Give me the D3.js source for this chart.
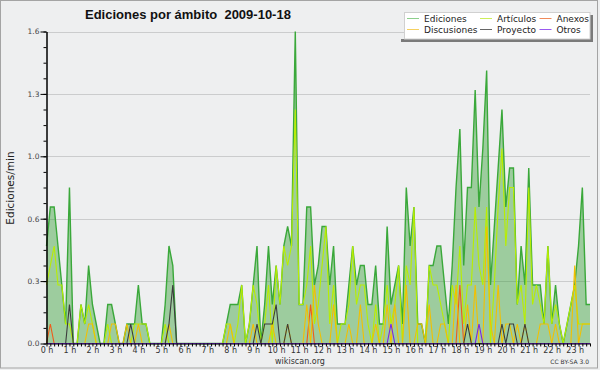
<!DOCTYPE html>
<html>
<head>
<meta charset="utf-8">
<script src="https://cdn.jsdelivr.net/npm/d3@7"></script>
<style>
  body { margin: 0; background: #eeeff0; }
  svg { display: block; }
</style>
</head>
<body>
<svg id="chart" width="600" height="370"></svg>
<script>
// edits per minute, 10-minute steps from 00:00 (6 values per hour)
let ediciones = [
  0.5,0.7,0.7,0.5,0.3,0.1, 0.8,0,0,0.2,0.1,0.4, 0.2,0.1,0,0,0.2,0.2, 0.1,0,0,0.1,0.1,0.1,
  0.3,0.1,0.1,0,0,0, 0,0.2,0.5,0.4,0,0, 0,0,0,0,0,0, 0,0,0,0,0,0.1,
  0.2,0.2,0.2,0.3,0,0.1, 0.3,0.5,0,0.2,0.5,0.2, 0.4,0.2,0.5,0.6,0.5,1.6, 0.2,0.2,0.7,0.7,0.3,0.4,
  0.6,0.6,0.3,0.5,0.1,0.1, 0.1,0.3,0.5,0.3,0.4,0.4, 0.2,0.2,0.4,0.1,0.1,0.6, 0.2,0.3,0.4,0.1,0.8,0.5,
  0.7,0.1,0.1,0,0.4,0.4, 0.5,0.5,0.3,0.1,0.4,0.8, 1.1,0.4,0.8,0.8,1.3,0.7, 1.0,1.4,0.3,0.6,0.9,1.2,
  0.7,0.9,0.9,0.2,0.5,0.3, 0.9,0.3,0.3,0.3,0.1,0.5, 0.1,0.3,0.1,0,0.1,0.2, 0.3,0.5,0.8,0.2,0.2
]
let articulos = [
  0.3,0.4,0.5,0.3,0.3,0.1, 0.1,0,0,0.2,0.1,0.2, 0.1,0,0,0,0.1,0, 0,0,0,0,0,0.1,
  0.1,0.1,0.1,0,0,0, 0,0.1,0,0,0,0, 0,0,0,0,0,0, 0,0,0,0,0,0.1,
  0.1,0,0.1,0.3,0,0.1, 0.3,0.2,0,0.1,0.3,0, 0.4,0.2,0.5,0.4,0.5,1.2, 0.2,0.2,0.3,0.5,0.1,0.2,
  0.4,0.6,0.1,0.3,0,0.1, 0.1,0.2,0.5,0.2,0.3,0.3, 0.1,0,0.2,0,0.1,0.3, 0.1,0.2,0.4,0,0.4,0.3,
  0.7,0,0,0,0.4,0.3, 0.3,0.2,0.1,0,0.3,0.2, 0.5,0.1,0.3,0.3,0.7,0.4, 0.3,0.7,0,0.3,0.7,1.0,
  0.5,0.8,0.8,0.2,0.3,0.1, 0.8,0.2,0.3,0.2,0.1,0.5, 0.1,0.2,0.1,0,0.1,0.2, 0.3,0.1,0.1,0.1,0.1
]
let anexos = [
  0,0.1,0,0,0,0, 0,0,0,0,0,0, 0,0,0,0,0,0, 0,0,0,0,0,0,
  0,0,0,0,0,0, 0,0,0,0,0,0, 0,0,0,0,0,0, 0,0,0,0,0,0,
  0,0,0,0,0,0, 0,0,0,0,0,0, 0,0,0,0,0,0, 0,0,0,0.2,0,0,
  0,0,0,0,0,0, 0,0,0,0,0,0, 0,0,0,0,0,0, 0,0,0,0,0,0,
  0,0,0,0,0,0, 0,0,0,0,0,0, 0.3,0,0,0,0,0, 0,0,0,0,0,0,
  0,0,0,0,0,0, 0,0,0,0,0,0, 0,0,0,0,0,0, 0,0,0,0,0
]
let discusiones = [
  0,0,0,0,0,0, 0,0,0,0,0,0.1, 0.1,0,0,0,0,0.1, 0.1,0,0,0.1,0,0,
  0.1,0,0,0,0,0, 0,0,0.1,0,0,0, 0,0,0,0,0,0, 0,0,0,0,0,0,
  0.1,0,0,0,0,0, 0.1,0,0,0,0,0.1, 0,0,0,0.1,0,0, 0,0,0.2,0,0.3,0.1,
  0,0,0,0.2,0,0, 0,0.1,0,0,0.2,0, 0,0,0.1,0,0,0.2, 0,0.2,0,0,0.3,0,
  0,0.1,0.1,0,0.2,0, 0,0.1,0.1,0,0,0.3, 0,0,0.2,0,0.3,0, 0,0.6,0.1,0,0.3,0,
  0.1,0.1,0,0.1,0,0.1, 0,0,0,0.1,0.1,0.1, 0,0.1,0,0,0,0, 0.4,0,0.1,0.1,0.1
]
let proyecto = [
  0,0,0,0,0,0, 0.2,0,0,0,0,0, 0,0,0,0,0,0, 0,0,0,0,0.1,0,
  0,0,0,0,0,0, 0,0,0.1,0.3,0,0, 0,0,0,0,0,0, 0,0,0,0,0,0,
  0,0,0,0,0,0, 0,0.1,0,0.1,0.1,0.1, 0.2,0,0,0.1,0,0, 0,0,0,0,0,0,
  0,0,0,0,0,0, 0,0,0,0,0,0, 0,0,0,0,0,0, 0,0,0,0,0,0,
  0,0,0,0,0,0, 0,0,0,0,0,0, 0,0,0.1,0,0,0, 0,0,0,0,0,0.1,
  0,0.1,0.1,0,0,0.1, 0,0,0,0,0,0, 0,0,0,0,0,0, 0,0,0,0,0
]
let otros = [
  0,0,0,0,0,0, 0,0,0,0,0,0, 0,0,0,0,0,0, 0,0,0,0,0,0,
  0,0,0,0,0,0, 0,0,0,0,0,0, 0,0,0,0,0,0, 0,0,0,0,0,0,
  0,0,0,0,0,0, 0,0,0,0,0,0, 0,0,0,0,0,0, 0,0,0,0,0,0,
  0,0,0,0,0,0, 0,0,0,0,0,0, 0,0,0,0,0,0, 0.1,0,0,0,0,0,
  0,0,0,0,0,0, 0,0,0,0,0,0, 0,0,0,0,0,0.1, 0,0,0,0,0,0,
  0,0,0,0,0,0, 0,0,0,0,0,0, 0,0,0,0,0,0, 0,0,0,0,0
]

let hourLabels = ["0 h","1 h","2 h","3 h","4 h","5 h","6 h","7 h","8 h","9 h","10 h","11 h",
  "12 h","13 h","14 h","15 h","16 h","17 h","18 h","19 h","20 h","21 h","22 h","23 h"]
let yTicks = [0, 0.32, 0.64, 0.96, 1.28, 1.6]
let yTickLabels = ["0.0", "0.3", "0.6", "1.0", "1.3", "1.6"]

let seriesNames = ["Ediciones", "Artículos", "Anexos", "Discusiones", "Proyecto", "Otros"]
let seriesData = [ediciones, articulos, anexos, discusiones, proyecto, otros]
let lineColors = ["#3aa83a", "#b8ee00", "#f05a1a", "#f2c000", "#3c3c3c", "#7a22e8"]
let legendColors = ["#8ccf8c", "#cdee5a", "#f08a5a", "#f5d060", "#666666", "#9a5af0"]

let svg = d3.select("#chart")
let font = "DejaVu Sans, sans-serif"

let x = d3.scaleLinear().domain([0, 142]).range([46.5, 590])
let y = d3.scaleLinear().domain([0, 1.6]).range([343.5, 31.5])

// frame
svg.append("rect")
  .attr("x", 0.5).attr("y", 0.5).attr("width", 597).attr("height", 367.5)
  .attr("fill", "#eeeff0").attr("stroke", "#a4a4a4")

// grid
svg.append("g").selectAll("line")
  .data(yTicks.slice(1))
  .enter().append("line")
  .attr("x1", 46.5).attr("x2", 590)
  .attr("y1", d => Math.round(y(d)) + 0.5).attr("y2", d => Math.round(y(d)) + 0.5)
  .attr("stroke", "#cbcccd")

// total area
let area = d3.area()
  .x((d, i) => x(i))
  .y0(y(0))
  .y1(d => y(d))
svg.append("path")
  .datum(ediciones)
  .attr("d", area)
  .attr("fill", "#2e9a2e")
  .attr("fill-opacity", 0.42)

let line = d3.line()
  .x((d, i) => x(i))
  .y(d => y(d))

svg.append("g").selectAll("path")
  .data(seriesData)
  .enter().append("path")
  .attr("d", d => line(d))
  .attr("fill", "none")
  .attr("stroke", (d, i) => lineColors[i])
  .attr("stroke-width", (d, i) => i === 0 ? 1.4 : 1.1)
  .attr("stroke-linejoin", "miter")

// axes
let xAxis = d3.axisBottom(x)
  .tickValues(d3.range(0, 143))
  .tickSize(3)
  .tickSizeOuter(0)
  .tickPadding(1)
  .tickFormat(i => i % 6 === 0 ? hourLabels[i / 6] : "")
let gx = svg.append("g")
  .attr("transform", "translate(0," + y(0) + ")")
  .call(xAxis)
gx.selectAll("text").attr("font-size", 8).attr("font-family", font).attr("fill", "#333")
gx.selectAll("line").attr("stroke", "#000")
gx.select(".domain").attr("stroke", "#000")

let yMinor = d3.axisLeft(y)
  .tickValues(d3.range(0, 21).map(k => k * 0.08))
  .tickSize(3)
  .tickSizeOuter(0)
  .tickFormat("")
let gyMinor = svg.append("g")
  .attr("transform", "translate(46.5,0)")
  .call(yMinor)
gyMinor.selectAll("line").attr("stroke", "#000")
gyMinor.select(".domain").attr("stroke", "#000")

let yAxis = d3.axisLeft(y)
  .tickValues(yTicks)
  .tickSize(6)
  .tickSizeOuter(0)
  .tickPadding(1)
  .tickFormat((d, i) => yTickLabels[i])
let gy = svg.append("g")
  .attr("transform", "translate(46.5,0)")
  .call(yAxis)
gy.selectAll("text").attr("font-size", 7.5).attr("font-family", font).attr("fill", "#444")
gy.selectAll("line").attr("stroke", "#000")
gy.select(".domain").attr("stroke", "#000")

// y title
svg.append("text")
  .attr("transform", "translate(13.5,188) rotate(-90)")
  .attr("text-anchor", "middle")
  .attr("font-family", font)
  .attr("font-size", 10.5)
  .attr("fill", "#222")
  .text("Ediciones/min")

// title
svg.append("text")
  .attr("x", 85).attr("y", 18.5)
  .attr("font-family", "Liberation Sans, Arial, sans-serif")
  .attr("font-weight", "bold")
  .attr("font-size", 13)
  .attr("fill", "#111")
  .attr("xml:space", "preserve")
  .text("Ediciones por ámbito  2009-10-18")

// legend
svg.append("rect").attr("x", 401).attr("y", 39).attr("width", 192).attr("height", 3).attr("fill", "#7a7a7a")
svg.append("rect").attr("x", 590).attr("y", 15).attr("width", 3).attr("height", 27).attr("fill", "#7a7a7a")
svg.append("rect")
  .attr("x", 404.5).attr("y", 12.5).attr("width", 185.5).attr("height", 26.5)
  .attr("fill", "#ffffff").attr("stroke", "#d0d0d0")

let legendX = [407, 480, 539.5]
let legendY = [18.5, 29.5]
let legendItems = svg.append("g").selectAll("g")
  .data(seriesNames)
  .enter().append("g")
  .attr("transform", (d, i) => {
    let col = [0, 1, 2, 0, 1, 2][i]
    let row = i < 3 ? 0 : 1
    return "translate(" + legendX[col] + "," + legendY[row] + ")"
  })
legendItems.append("line")
  .attr("x1", 0).attr("x2", 12)
  .attr("stroke", (d, i) => legendColors[i])
  .attr("stroke-width", 1)
legendItems.append("text")
  .attr("x", 17).attr("y", 3.5)
  .attr("font-family", font)
  .attr("font-size", 9)
  .attr("fill", "#222")
  .text(d => d)

// footer
svg.append("text")
  .attr("x", 300).attr("y", 363.5)
  .attr("text-anchor", "middle")
  .attr("font-family", font)
  .attr("font-size", 8)
  .attr("fill", "#333")
  .text("wikiscan.org")
svg.append("text")
  .attr("x", 589).attr("y", 364)
  .attr("text-anchor", "end")
  .attr("font-family", font)
  .attr("font-size", 6)
  .attr("fill", "#333")
  .text("CC BY-SA 3.0")
</script>
</body>
</html>
